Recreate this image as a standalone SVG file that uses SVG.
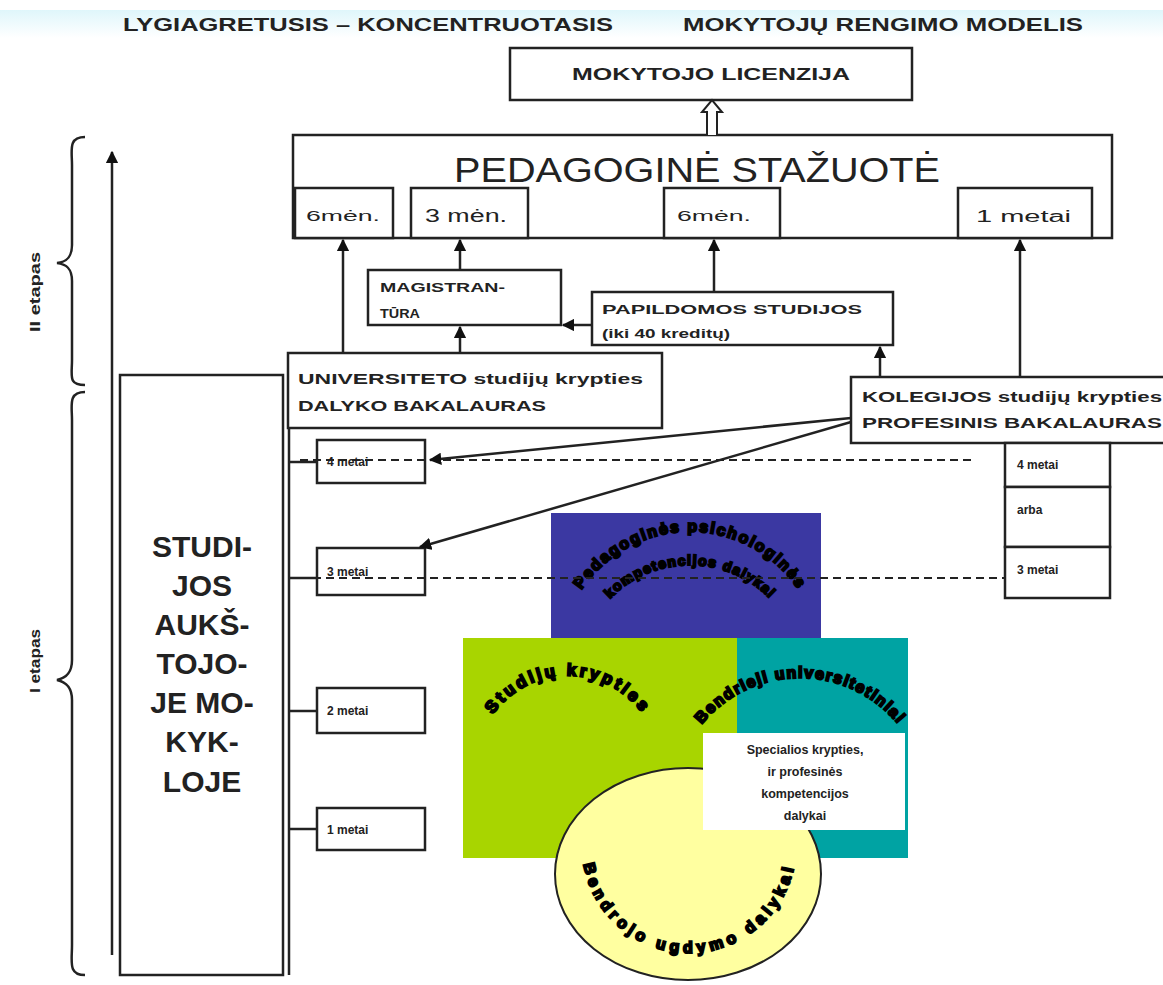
<svg xmlns="http://www.w3.org/2000/svg" width="1163" height="985" viewBox="0 0 1163 985">
<defs>
<style>
.box{fill:#fff;stroke:#222;stroke-width:2.5}
.t{font-family:"Liberation Sans",Arial,sans-serif;fill:#222}
.b{font-weight:bold}
.ln{stroke:#222;stroke-width:2.5;fill:none}
.dash{stroke:#222;stroke-width:2;stroke-dasharray:8 5;fill:none}
.arc{font-family:"Liberation Sans",Arial,sans-serif;font-weight:900;fill:#000;stroke:#000;stroke-width:2}
</style>
<marker id="ah" viewBox="0 0 10 10" refX="9" refY="5" markerWidth="5" markerHeight="5" orient="auto-start-reverse">
<path d="M0,0 L10,5 L0,10 z" fill="#111"/>
</marker>
<linearGradient id="band" x1="0" y1="0" x2="0" y2="1">
<stop offset="0" stop-color="#dff6fb"/>
<stop offset="1" stop-color="#ffffff"/>
</linearGradient>
<path id="pBlue1" d="M574,603 A130,130 0 0 1 806,603"/>
<path id="pBlue2" d="M606,603 A112,112 0 0 1 774,603"/>
<path id="pGreen" d="M482,735 A92,92 0 0 1 654,735"/>
<path id="pTeal" d="M692,738 A127,127 0 0 1 908,738"/>
<path id="pYellow" d="M582,846 A107,107 0 0 0 796,846"/>
</defs>
<rect width="1163" height="985" fill="#fff"/>
<rect x="0" y="10" width="1163" height="28" fill="url(#band)"/>

<g id="title">
<text class="t b" x="123" y="31" font-size="18" textLength="490" lengthAdjust="spacingAndGlyphs">LYGIAGRETUSIS – KONCENTRUOTASIS</text>
<text class="t b" x="683" y="31" font-size="18" textLength="400" lengthAdjust="spacingAndGlyphs">MOKYTOJŲ RENGIMO MODELIS</text>
</g>

<g id="stage-labels">
<path class="ln" stroke-width="1.8" d="M85,137 C68,137 72,150 72,165 L72,245 C72,258 66,262 57,263 C66,264 72,268 72,281 L72,360 C72,376 68,385 85,385"/>
<path class="ln" stroke-width="1.8" d="M85,392 C68,392 72,405 72,420 L72,660 C72,673 66,678 57,680 C66,682 72,687 72,700 L72,945 C72,962 68,975 85,975"/>
<text class="t b" font-size="14" transform="translate(40,332) rotate(-90)" textLength="80" lengthAdjust="spacingAndGlyphs">II etapas</text>
<text class="t b" font-size="14" transform="translate(40,693) rotate(-90)" textLength="64" lengthAdjust="spacingAndGlyphs">I etapas</text>
</g>

<g id="licenzija">
<rect class="box" x="510" y="48" width="402" height="52"/>
<text class="t b" x="711" y="80" font-size="17" text-anchor="middle" textLength="278" lengthAdjust="spacingAndGlyphs">MOKYTOJO LICENZIJA</text>
</g>

<g id="stazuote">
<rect class="box" x="293" y="135" width="819" height="103"/>
<text class="t" x="697" y="182" font-size="35" text-anchor="middle" textLength="486" lengthAdjust="spacingAndGlyphs">PEDAGOGINĖ STAŽUOTĖ</text>
<rect class="box" x="295" y="188" width="98" height="50"/>
<text class="t" x="306" y="221" font-size="15" textLength="74" lengthAdjust="spacingAndGlyphs">6mėn.</text>
<rect class="box" x="411" y="188" width="117" height="50"/>
<text class="t" x="425" y="222" font-size="18" textLength="82" lengthAdjust="spacingAndGlyphs">3 mėn.</text>
<rect class="box" x="664" y="188" width="116" height="50"/>
<text class="t" x="677" y="221" font-size="15" textLength="74" lengthAdjust="spacingAndGlyphs">6mėn.</text>
<rect class="box" x="958" y="188" width="134" height="50"/>
<text class="t" x="976" y="222" font-size="16" textLength="95" lengthAdjust="spacingAndGlyphs">1 metai</text>
</g>

<g id="magistrantura">
<rect class="box" x="368" y="270" width="193" height="55"/>
<text class="t b" x="380" y="292" font-size="13" textLength="125" lengthAdjust="spacingAndGlyphs">MAGISTRAN-</text>
<text class="t b" x="380" y="318" font-size="13" textLength="40" lengthAdjust="spacingAndGlyphs">TŪRA</text>
</g>

<g id="papildomos">
<rect class="box" x="592" y="292" width="301" height="53"/>
<text class="t b" x="602" y="314" font-size="13" textLength="260" lengthAdjust="spacingAndGlyphs">PAPILDOMOS STUDIJOS</text>
<text class="t b" x="602" y="338" font-size="12" textLength="128" lengthAdjust="spacingAndGlyphs">(iki 40 kreditų)</text>
</g>

<g id="universiteto">
<rect class="box" x="288" y="353" width="374" height="75"/>
<text class="t b" x="298" y="384" font-size="15" textLength="345" lengthAdjust="spacingAndGlyphs">UNIVERSITETO studijų krypties</text>
<text class="t b" x="298" y="411" font-size="15" textLength="248" lengthAdjust="spacingAndGlyphs">DALYKO BAKALAURAS</text>
</g>

<g id="kolegijos">
<rect class="box" x="851" y="377" width="320" height="66"/>
<text class="t b" x="862" y="402" font-size="14" textLength="300" lengthAdjust="spacingAndGlyphs">KOLEGIJOS  studijų krypties</text>
<text class="t b" x="862" y="428" font-size="14" textLength="300" lengthAdjust="spacingAndGlyphs">PROFESINIS BAKALAURAS</text>
</g>

<g id="kolegijos-metai">
<rect class="box" x="1005" y="443" width="105" height="44"/>
<text class="t b" x="1017" y="469" font-size="12">4 metai</text>
<rect class="box" x="1005" y="487" width="105" height="60"/>
<text class="t b" x="1017" y="514" font-size="12">arba</text>
<rect class="box" x="1005" y="547" width="105" height="51"/>
<text class="t b" x="1017" y="574" font-size="12">3 metai</text>
</g>

<g id="studijos">
<rect class="box" x="120" y="375" width="163" height="600"/>
<g class="t b" font-size="30" text-anchor="middle">
<text x="202" y="557">STUDI-</text>
<text x="202" y="596">JOS</text>
<text x="202" y="635">AUKŠ-</text>
<text x="202" y="674">TOJO-</text>
<text x="202" y="713">JE MO-</text>
<text x="202" y="752">KYK-</text>
<text x="202" y="792">LOJE</text>
</g>
</g>

<g id="years">
<line class="ln" x1="289" y1="428" x2="289" y2="975"/>
<line class="ln" x1="289" y1="462" x2="317" y2="462"/>
<line class="ln" x1="289" y1="578" x2="317" y2="578"/>
<line class="ln" x1="289" y1="711" x2="317" y2="711"/>
<line class="ln" x1="289" y1="829" x2="317" y2="829"/>
<rect class="box" x="317" y="440" width="108" height="43"/>
<text class="t b" x="327" y="466" font-size="12">4 metai</text>
<rect class="box" x="317" y="548" width="108" height="47"/>
<text class="t b" x="327" y="576" font-size="12">3 metai</text>
<rect class="box" x="317" y="688" width="108" height="45"/>
<text class="t b" x="327" y="715" font-size="12">2 metai</text>
<rect class="box" x="317" y="808" width="108" height="42"/>
<text class="t b" x="327" y="834" font-size="12">1 metai</text>
</g>

<g id="sectors">
<rect x="551" y="513" width="270" height="127" fill="#3b38a2"/>
<rect x="463" y="638" width="274" height="220" fill="#a8d500"/>
<rect x="737" y="638" width="171" height="220" fill="#00a3a3"/>
<ellipse cx="688" cy="874" rx="133" ry="106" fill="#ffffa0" stroke="#222" stroke-width="2"/>
<rect x="703" y="733" width="202" height="97" fill="#fff"/>
<g class="t b" font-size="12.5" text-anchor="middle">
<text x="805" y="754">Specialios krypties,</text>
<text x="805" y="776">ir profesinės</text>
<text x="805" y="798">kompetencijos</text>
<text x="805" y="820">dalykai</text>
</g>
<text class="arc" font-size="16" letter-spacing="1.8"><textPath href="#pBlue1" startOffset="50%" text-anchor="middle">Pedagoginės psichologinės</textPath></text>
<text class="arc" font-size="14" letter-spacing="1.4"><textPath href="#pBlue2" startOffset="50%" text-anchor="middle">kompetencijos dalykai</textPath></text>
<text class="arc" font-size="17" letter-spacing="3"><textPath href="#pGreen" startOffset="50%" text-anchor="middle">Studijų krypties</textPath></text>
<text class="arc" font-size="16" letter-spacing="1.5"><textPath href="#pTeal" startOffset="50%" text-anchor="middle">Bendrieji universitetiniai</textPath></text>
<text class="arc" font-size="16" letter-spacing="4.5"><textPath href="#pYellow" startOffset="50%" text-anchor="middle">Bendrojo ugdymo dalykai</textPath></text>
</g>

<g id="connectors">
<line class="dash" x1="300" y1="460" x2="975" y2="460"/>
<line class="dash" x1="300" y1="578" x2="1005" y2="578"/>
<path d="M707,135 L707,112 L702,112 L712,100 L722,112 L717,112 L717,135" fill="#fff" stroke="#222" stroke-width="2"/>
<line class="ln" x1="112" y1="955" x2="112" y2="152" marker-end="url(#ah)"/>
<line class="ln" x1="343" y1="353" x2="343" y2="240" marker-end="url(#ah)"/>
<line class="ln" x1="460" y1="270" x2="460" y2="240" marker-end="url(#ah)"/>
<line class="ln" x1="714" y1="292" x2="714" y2="240" marker-end="url(#ah)"/>
<line class="ln" x1="1020" y1="377" x2="1020" y2="240" marker-end="url(#ah)"/>
<line class="ln" x1="460" y1="353" x2="460" y2="327" marker-end="url(#ah)"/>
<line class="ln" x1="592" y1="325" x2="563" y2="325" marker-end="url(#ah)"/>
<line class="ln" x1="880" y1="377" x2="880" y2="347" marker-end="url(#ah)"/>
<line class="ln" x1="851" y1="418" x2="430" y2="460" marker-end="url(#ah)"/>
<line class="ln" x1="851" y1="422" x2="420" y2="547" marker-end="url(#ah)"/>
</g>
</svg>
